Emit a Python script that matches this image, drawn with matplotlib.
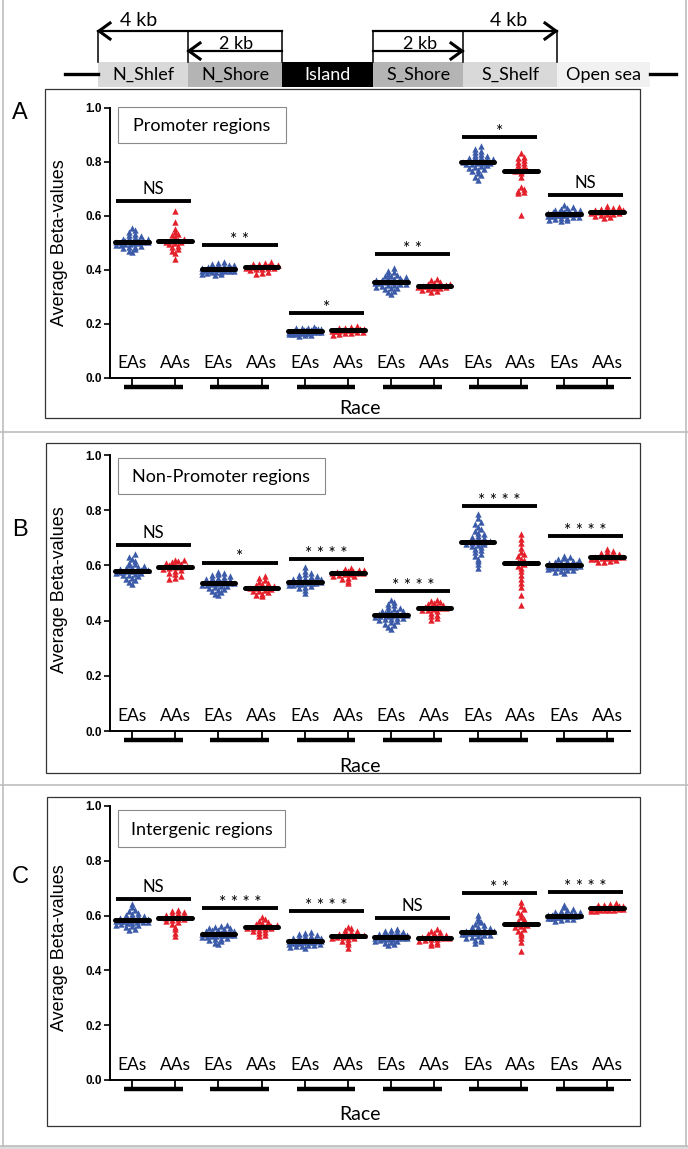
import numpy as np
import matplotlib.pyplot as plt
from matplotlib.patches import Rectangle

W, H = 688, 1149

regions = ["N_Shlef", "N_Shore", "Island", "S_Shore", "S_Shelf", "Open sea"]
region_colors = ["#d9d9d9", "#b4b4b4", "#000000", "#b4b4b4", "#d9d9d9", "#f1f1f1"]
region_text_colors = ["k", "k", "w", "k", "k", "k"]
race_labels = ["EAs", "AAs"]
yticks = [0.0, 0.2, 0.4, 0.6, 0.8, 1.0]

# ---- Promoter regions (A) ----
promoter_eas = [
    [0.468, 0.472, 0.478, 0.481, 0.485, 0.487, 0.489, 0.492, 0.494, 0.496, 0.498, 0.499, 0.501, 0.502, 0.503, 0.504,
     0.505, 0.506, 0.507, 0.508, 0.510, 0.512, 0.514, 0.516, 0.519, 0.522, 0.525, 0.529, 0.534, 0.540, 0.548, 0.556],
    [0.381, 0.384, 0.387, 0.389, 0.391, 0.393, 0.394, 0.395, 0.396, 0.397, 0.398, 0.399, 0.400, 0.401, 0.402, 0.402,
     0.403, 0.404, 0.405, 0.406, 0.407, 0.408, 0.409, 0.410, 0.412, 0.414, 0.416, 0.418, 0.420, 0.423, 0.426, 0.430],
    [0.156, 0.158, 0.160, 0.162, 0.163, 0.164, 0.165, 0.166, 0.167, 0.168, 0.169, 0.170, 0.170, 0.171, 0.172, 0.172,
     0.173, 0.173, 0.174, 0.175, 0.176, 0.177, 0.178, 0.179, 0.180, 0.181, 0.182, 0.183, 0.184, 0.185, 0.187, 0.189],
    [0.312, 0.318, 0.323, 0.328, 0.332, 0.335, 0.338, 0.341, 0.343, 0.345, 0.347, 0.349, 0.351, 0.352, 0.354, 0.355,
     0.356, 0.358, 0.360, 0.362, 0.364, 0.366, 0.368, 0.370, 0.373, 0.376, 0.379, 0.382, 0.386, 0.391, 0.398, 0.407],
    [0.735, 0.744, 0.752, 0.759, 0.765, 0.770, 0.775, 0.779, 0.782, 0.785, 0.788, 0.791, 0.793, 0.795, 0.797, 0.798,
     0.800, 0.802, 0.804, 0.806, 0.808, 0.811, 0.814, 0.817, 0.820, 0.823, 0.827, 0.831, 0.836, 0.842, 0.849, 0.858],
    [0.581, 0.584, 0.587, 0.590, 0.592, 0.594, 0.596, 0.597, 0.599, 0.600, 0.601, 0.602, 0.603, 0.604, 0.605, 0.606,
     0.607, 0.608, 0.609, 0.610, 0.611, 0.613, 0.614, 0.616, 0.618, 0.620, 0.622, 0.624, 0.627, 0.630, 0.634, 0.639],
]
promoter_aas = [
    [0.442, 0.462, 0.471, 0.478, 0.484, 0.489, 0.495, 0.499, 0.503, 0.505, 0.507, 0.510, 0.515, 0.521, 0.528, 0.534,
     0.541, 0.552, 0.578, 0.618],
    [0.386, 0.389, 0.394, 0.399, 0.402, 0.405, 0.407, 0.408, 0.409, 0.410, 0.411, 0.412, 0.413, 0.414, 0.416, 0.418,
     0.421, 0.424, 0.427, 0.431],
    [0.161, 0.164, 0.166, 0.168, 0.170, 0.171, 0.173, 0.174, 0.175, 0.176, 0.177, 0.178, 0.179, 0.180, 0.181, 0.182,
     0.184, 0.186, 0.188, 0.191],
    [0.318, 0.322, 0.326, 0.329, 0.332, 0.334, 0.336, 0.338, 0.339, 0.340, 0.341, 0.342, 0.344, 0.346, 0.348, 0.350,
     0.353, 0.357, 0.362, 0.368],
    [0.605, 0.686, 0.690, 0.694, 0.700, 0.708, 0.745, 0.758, 0.765, 0.767, 0.770, 0.779, 0.785, 0.790, 0.797, 0.801,
     0.808, 0.813, 0.820, 0.832],
    [0.592, 0.596, 0.600, 0.603, 0.606, 0.608, 0.610, 0.612, 0.614, 0.615, 0.617, 0.618, 0.620, 0.621, 0.623, 0.625,
     0.627, 0.630, 0.633, 0.638],
]
promoter_sig_y = [0.656, 0.493, 0.240, 0.460, 0.893, 0.678]
promoter_sig = ["NS", "* *", "*", "* *", "*", "NS"]

# ---- Non-promoter regions (B) ----
nonpromoter_eas = [
    [0.532, 0.540, 0.546, 0.551, 0.556, 0.560, 0.564, 0.567, 0.570, 0.572, 0.574, 0.575, 0.577, 0.578, 0.579, 0.580,
     0.581, 0.582, 0.583, 0.585, 0.587, 0.589, 0.591, 0.594, 0.597, 0.600, 0.604, 0.609, 0.615, 0.622, 0.632, 0.643],
    [0.491, 0.497, 0.502, 0.507, 0.511, 0.515, 0.518, 0.521, 0.524, 0.526, 0.528, 0.530, 0.532, 0.533, 0.535, 0.536,
     0.537, 0.538, 0.540, 0.542, 0.544, 0.546, 0.548, 0.551, 0.553, 0.556, 0.559, 0.562, 0.565, 0.568, 0.571, 0.575],
    [0.501, 0.511, 0.517, 0.521, 0.525, 0.528, 0.530, 0.532, 0.534, 0.536, 0.537, 0.538, 0.539, 0.540, 0.540, 0.541,
     0.542, 0.543, 0.544, 0.546, 0.548, 0.550, 0.552, 0.554, 0.556, 0.558, 0.561, 0.564, 0.568, 0.573, 0.580, 0.596],
    [0.371, 0.378, 0.384, 0.389, 0.394, 0.398, 0.401, 0.404, 0.407, 0.409, 0.411, 0.413, 0.415, 0.417, 0.418, 0.419,
     0.421, 0.422, 0.424, 0.426, 0.428, 0.430, 0.433, 0.436, 0.439, 0.442, 0.446, 0.450, 0.455, 0.460, 0.466, 0.474],
    [0.591, 0.604, 0.615, 0.625, 0.634, 0.642, 0.649, 0.655, 0.660, 0.665, 0.669, 0.673, 0.676, 0.679, 0.682, 0.684,
     0.686, 0.689, 0.692, 0.695, 0.699, 0.703, 0.708, 0.713, 0.719, 0.725, 0.732, 0.740, 0.749, 0.759, 0.772, 0.788],
    [0.571, 0.575, 0.579, 0.582, 0.585, 0.587, 0.589, 0.591, 0.593, 0.594, 0.595, 0.596, 0.597, 0.598, 0.599, 0.600,
     0.601, 0.602, 0.603, 0.604, 0.606, 0.607, 0.609, 0.611, 0.613, 0.615, 0.617, 0.620, 0.623, 0.626, 0.630, 0.635],
]
nonpromoter_aas = [
    [0.551, 0.556, 0.562, 0.568, 0.574, 0.580, 0.585, 0.588, 0.591, 0.593, 0.595, 0.597, 0.600, 0.603, 0.606, 0.609,
     0.612, 0.615, 0.618, 0.621],
    [0.490, 0.494, 0.498, 0.502, 0.506, 0.509, 0.512, 0.515, 0.517, 0.518, 0.520, 0.522, 0.525, 0.528, 0.532, 0.536,
     0.541, 0.547, 0.553, 0.561],
    [0.536, 0.545, 0.551, 0.556, 0.560, 0.563, 0.566, 0.568, 0.570, 0.571, 0.573, 0.574, 0.576, 0.577, 0.579, 0.580,
     0.582, 0.584, 0.586, 0.589],
    [0.401, 0.409, 0.416, 0.422, 0.428, 0.433, 0.437, 0.440, 0.443, 0.444, 0.446, 0.448, 0.450, 0.453, 0.456, 0.459,
     0.462, 0.466, 0.470, 0.475],
    [0.456, 0.492, 0.520, 0.538, 0.552, 0.565, 0.578, 0.590, 0.598, 0.604, 0.612, 0.618, 0.625, 0.633, 0.641, 0.650,
     0.662, 0.680, 0.697, 0.715],
    [0.611, 0.614, 0.617, 0.620, 0.622, 0.624, 0.626, 0.627, 0.628, 0.629, 0.631, 0.632, 0.634, 0.636, 0.638, 0.641,
     0.644, 0.648, 0.653, 0.659],
]
nonpromoter_sig_y = [0.674, 0.610, 0.623, 0.507, 0.815, 0.706]
nonpromoter_sig = ["NS", "*", "* * * *", "* * * *", "* * * *", "* * * *"]

# ---- Intergenic regions (C) ----
intergenic_eas = [
    [0.546, 0.552, 0.557, 0.561, 0.564, 0.567, 0.570, 0.572, 0.574, 0.576, 0.577, 0.578, 0.579, 0.580, 0.581, 0.582,
     0.584, 0.585, 0.586, 0.588, 0.590, 0.592, 0.594, 0.597, 0.600, 0.603, 0.607, 0.611, 0.616, 0.622, 0.630, 0.644],
    [0.496, 0.501, 0.506, 0.510, 0.513, 0.516, 0.519, 0.521, 0.523, 0.525, 0.527, 0.528, 0.529, 0.530, 0.531, 0.532,
     0.533, 0.534, 0.535, 0.537, 0.538, 0.540, 0.542, 0.544, 0.546, 0.548, 0.550, 0.553, 0.556, 0.559, 0.562, 0.565],
    [0.481, 0.485, 0.488, 0.490, 0.492, 0.494, 0.496, 0.498, 0.499, 0.500, 0.501, 0.502, 0.503, 0.504, 0.505, 0.506,
     0.508, 0.509, 0.510, 0.511, 0.513, 0.514, 0.516, 0.518, 0.520, 0.522, 0.524, 0.527, 0.530, 0.533, 0.536, 0.540],
    [0.491, 0.496, 0.500, 0.503, 0.506, 0.509, 0.511, 0.513, 0.515, 0.516, 0.517, 0.518, 0.519, 0.520, 0.521, 0.522,
     0.523, 0.524, 0.525, 0.526, 0.527, 0.528, 0.530, 0.531, 0.533, 0.535, 0.537, 0.539, 0.541, 0.544, 0.547, 0.550],
    [0.501, 0.507, 0.512, 0.516, 0.520, 0.523, 0.526, 0.528, 0.530, 0.532, 0.534, 0.535, 0.536, 0.537, 0.538, 0.539,
     0.541, 0.542, 0.543, 0.545, 0.547, 0.549, 0.551, 0.554, 0.557, 0.560, 0.564, 0.569, 0.575, 0.582, 0.592, 0.604],
    [0.580, 0.583, 0.586, 0.588, 0.590, 0.592, 0.593, 0.594, 0.595, 0.596, 0.597, 0.598, 0.598, 0.599, 0.599, 0.600,
     0.600, 0.601, 0.602, 0.603, 0.604, 0.605, 0.606, 0.608, 0.610, 0.612, 0.614, 0.617, 0.620, 0.624, 0.630, 0.639],
]
intergenic_aas = [
    [0.526, 0.538, 0.550, 0.560, 0.568, 0.575, 0.580, 0.584, 0.587, 0.589, 0.591, 0.594, 0.597, 0.600, 0.603, 0.606,
     0.609, 0.612, 0.615, 0.619],
    [0.526, 0.531, 0.536, 0.541, 0.545, 0.548, 0.551, 0.553, 0.555, 0.556, 0.558, 0.560, 0.562, 0.565, 0.568, 0.572,
     0.577, 0.582, 0.588, 0.594],
    [0.481, 0.495, 0.503, 0.509, 0.514, 0.517, 0.520, 0.522, 0.523, 0.524, 0.526, 0.528, 0.530, 0.533, 0.536, 0.539,
     0.543, 0.548, 0.553, 0.559],
    [0.491, 0.496, 0.501, 0.505, 0.509, 0.512, 0.514, 0.516, 0.518, 0.519, 0.521, 0.523, 0.525, 0.527, 0.530, 0.533,
     0.537, 0.541, 0.545, 0.550],
    [0.472, 0.505, 0.518, 0.528, 0.537, 0.545, 0.552, 0.558, 0.563, 0.566, 0.570, 0.575, 0.581, 0.588, 0.596, 0.605,
     0.614, 0.624, 0.636, 0.650],
    [0.615, 0.617, 0.619, 0.620, 0.621, 0.622, 0.623, 0.624, 0.625, 0.627, 0.629, 0.630, 0.631, 0.632, 0.634, 0.636,
     0.638, 0.640, 0.642, 0.645],
]
intergenic_sig_y = [0.660, 0.626, 0.617, 0.590, 0.681, 0.685]
intergenic_sig = ["NS", "* * * *", "* * * *", "NS", "* *", "* * * *"]

BLUE = "#3b5aa8"
RED = "#e4202b"
CAL = "Lato"
ARIAL = "Liberation Sans"


def px_axes(fig, x0, y0, x1, y1):
    return fig.add_axes([x0 / W, 1 - y1 / H, (x1 - x0) / W, (y1 - y0) / H])


def swarm(vals, row_h, dx, max_w):
    # spread points of the same height sideways, like a column scatter plot
    vals = np.asarray(vals)
    rows = np.round(vals / row_h).astype(int)
    offs = np.zeros(len(vals))
    for r in np.unique(rows):
        idx = np.where(rows == r)[0]
        n = len(idx)
        step = min(dx, max_w / max(n - 1, 1))
        offs[idx] = (np.arange(n) - (n - 1) / 2) * step
    return offs


def draw_panel(fig, bg, y_top, y_zero, box, letter, letter_y, title, tbox, eas, aas, sig_y, sig, race_y, ylab_y):
    bx0, by0, bx1, by1 = box
    bg.add_patch(Rectangle((bx0, by0), bx1 - bx0, by1 - by0, fill=False, ec="#333333", lw=0.9))
    bg.text(20, letter_y, letter, fontsize=17, family=ARIAL, ha="center", va="center")
    tx0, ty0, tx1, ty1 = tbox
    bg.add_patch(Rectangle((tx0, ty0), tx1 - tx0, ty1 - ty0, fill=False, ec="#8a8a8a", lw=0.8))
    bg.text((tx0 + tx1) / 2, (ty0 + ty1) / 2 + 1, title, fontsize=13, family=CAL, ha="center", va="center")
    bg.text(60, ylab_y, "Average Beta-values", rotation=90, fontsize=13, family=ARIAL, ha="center", va="center")
    bg.text(360, race_y, "Race", fontsize=14, family=CAL, ha="center", va="center")

    ax = px_axes(fig, 110, y_top, 630, y_zero)
    ax.patch.set_visible(False)
    ax.set_xlim(-0.51, 11.53)
    ax.set_ylim(0, 1)
    ppu_y = y_zero - y_top
    ppu_x = 520 / 12.04
    for s in ["top", "right"]:
        ax.spines[s].set_visible(False)
    for s in ["left", "bottom"]:
        ax.spines[s].set_linewidth(1.4)
    ax.set_yticks(yticks)
    ax.set_yticklabels([f"{t:.1f}" for t in yticks], fontweight="bold", family=ARIAL, fontsize=8.5)
    ax.tick_params(axis="y", length=4, width=1.2, pad=2)
    ax.set_xticks(range(12))
    ax.set_xticklabels([])
    ax.tick_params(axis="x", length=7, width=1.3)

    for g in range(6):
        for k, (vals, col) in enumerate([(eas[g], BLUE), (aas[g], RED)]):
            x = 2 * g + k
            offs = swarm(vals, 3.2 / ppu_y, 6.0 / ppu_x, 32 / ppu_x)
            ax.scatter(x + offs, vals, marker="^", s=21, color=col, linewidths=0, zorder=3)
            m = np.median(vals)
            ax.plot([x - 0.39, x + 0.39], [m, m], color="k", lw=3.6, solid_capstyle="round", zorder=4)
            ax.text(x, 15 / ppu_y, race_labels[k], fontsize=12.5, family=CAL, ha="center", va="center")
        # group bar under the axis
        ax.plot([2 * g - 0.19, 2 * g + 1.17], [-9 / ppu_y, -9 / ppu_y], color="k", lw=3.2,
                solid_capstyle="butt", clip_on=False)
        # significance bar and label
        c = 2 * g + 0.5
        ax.plot([c - 0.87, c + 0.87], [sig_y[g], sig_y[g]], color="k", lw=2.8, solid_capstyle="butt")
        if sig[g] == "NS":
            ax.annotate("NS", (c, sig_y[g]), xytext=(0, 3), textcoords="offset points", ha="center",
                        va="bottom", fontsize=12, family=CAL)
        else:
            ax.annotate(sig[g], (c, sig_y[g]), xytext=(0, -2), textcoords="offset points", ha="center",
                        va="bottom", fontsize=12.5, family=CAL)
    return ax


fig = plt.figure(figsize=(W / 100, H / 100), dpi=100)
bg = fig.add_axes([0, 0, 1, 1])
bg.set_xlim(0, W)
bg.set_ylim(H, 0)
bg.axis("off")

# outer frame and separators
grey = "#bdbdbd"
bg.plot([2.5, 2.5], [0, 1146], color=grey, lw=1.2)
bg.plot([685.5, 685.5], [0, 1146], color=grey, lw=1.2)
bg.add_patch(Rectangle((0, 1146), W, 3, color="#dcdcdc", lw=0))
bg.plot([0, W], [1146, 1146], color=grey, lw=1.2)
bg.plot([0, W], [432, 432], color=grey, lw=1.2)
bg.plot([0, W], [785, 785], color=grey, lw=1.2)

# ---- top diagram ----
edges = [98, 188, 282, 373, 463, 557, 650]
bg.plot([65, 98], [74, 74], color="k", lw=2.4)
bg.plot([650, 676], [74, 74], color="k", lw=2.4)
for i, name in enumerate(regions):
    bg.add_patch(Rectangle((edges[i], 62), edges[i + 1] - edges[i], 25, color=region_colors[i], lw=0))
    bg.text((edges[i] + edges[i + 1]) / 2, 75, name, color=region_text_colors[i], fontsize=13,
            family=CAL, ha="center", va="center")
for x in [98, 188, 282, 373, 463, 557]:
    bg.plot([x, x], [31, 62], color="k", lw=1.1)
bg.plot([98, 282], [31, 31], color="k", lw=1.6)
bg.plot([188, 282], [51, 51], color="k", lw=1.6)
bg.plot([373, 557], [31, 31], color="k", lw=1.6)
bg.plot([373, 463], [51, 51], color="k", lw=1.6)


def chevron(x, y, d):
    bg.plot([x + d * 11, x, x + d * 11], [y - 8, y, y + 8], color="k", lw=2.2, solid_joinstyle="miter")


chevron(99, 31, 1)
chevron(189, 51, 1)
chevron(556, 31, -1)
chevron(462, 51, -1)
bg.text(139, 21, "4 kb", fontsize=14, family=CAL, ha="center", va="center")
bg.text(509, 21, "4 kb", fontsize=14, family=CAL, ha="center", va="center")
bg.text(236, 44, "2 kb", fontsize=13, family=CAL, ha="center", va="center")
bg.text(420, 44, "2 kb", fontsize=13, family=CAL, ha="center", va="center")

draw_panel(fig, bg, 108, 378, (45, 89, 640, 418), "A", 113, "Promoter regions", (118, 107, 286, 143),
           promoter_eas, promoter_aas, promoter_sig_y, promoter_sig, 408, 243)
draw_panel(fig, bg, 455, 731, (46, 443, 640, 773), "B", 530, "Non-Promoter regions", (118, 458, 325, 494),
           nonpromoter_eas, nonpromoter_aas, nonpromoter_sig_y, nonpromoter_sig, 766, 590)
draw_panel(fig, bg, 806, 1080, (47, 797, 640, 1126), "C", 877, "Intergenic regions", (118, 810, 285, 847),
           intergenic_eas, intergenic_aas, intergenic_sig_y, intergenic_sig, 1115, 948)

fig.savefig("out.png", dpi=100)
